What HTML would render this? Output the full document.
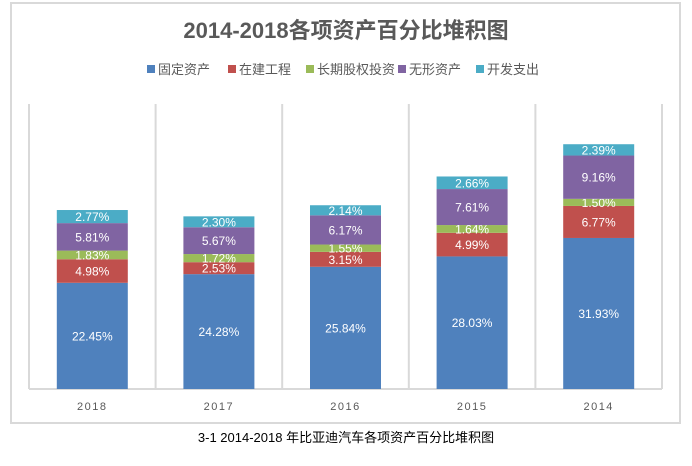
<!DOCTYPE html>
<html><head><meta charset="utf-8"><style>
body{margin:0;background:#fff;width:692px;height:461px;overflow:hidden;font-family:"Liberation Sans","Noto Sans CJK SC",sans-serif}
</style></head><body>
<svg id="c" width="692" height="461" xmlns="http://www.w3.org/2000/svg">
<rect x="11" y="3" width="669" height="420" fill="#fff" stroke="#d9d9d9" stroke-width="2"/>
<text x="346" y="38" text-anchor="middle" font-size="22" font-weight="bold" fill="#595959">2014-2018各项资产百分比堆积图</text>
<g id="legend"></g>
<g id="plot"></g>
<text x="346" y="442" text-anchor="middle" font-size="13" fill="#000">3-1 2014-2018 年比亚迪汽车各项资产百分比堆积图</text>
</svg>
<script>
const categories=["2018","2017","2016","2015","2014"];
const seriesNames=["固定资产","在建工程","长期股权投资","无形资产","开发支出"];
const fixedAssets=[22.45,24.28,25.84,28.03,31.93];
const construction=[4.98,2.53,3.15,4.99,6.77];
const equityInvest=[1.83,1.72,1.55,1.64,1.50];
const intangible=[5.81,5.67,6.17,7.61,9.16];
const devSpend=[2.77,2.30,2.14,2.66,2.39];
const colors=["#4f81bd","#c0504d","#9bbb59","#8064a2","#4bacc6"];
const series=[fixedAssets,construction,equityInvest,intangible,devSpend];
const NS="http://www.w3.org/2000/svg";
const svg=document.getElementById('c'),plot=document.getElementById('plot'),leg=document.getElementById('legend');
const x0=29,x1=662,yBase=389,pxPer=4.73,catW=(x1-x0)/categories.length,barW=71;
const y=v=>yBase-v*pxPer;
function mk(t,a,p){const e=document.createElementNS(NS,t);for(const k in a)e.setAttribute(k,a[k]);p.appendChild(e);return e;}
for(let i=0;i<=categories.length;i++){
 const l=mk('line',{x1:x0+i*catW,x2:x0+i*catW,y1:104,y2:yBase,stroke:'#d9d9d9','stroke-width':2},plot);
 
 
}
const ax=mk('line',{x1:x0,x2:x1,y1:yBase,y2:yBase,stroke:'#d9d9d9','stroke-width':2},plot);


categories.forEach((c,i)=>{
 const cx=x0+catW*(i+0.5);let acc=0;
 series.forEach((s,k)=>{
  const v=s[i];
  const r=mk('rect',{x:cx-barW/2,y:y(acc+v),width:barW,height:v*pxPer,fill:colors[k]},plot);
  
  
  const t=mk('text',{x:cx,y:y(acc+v/2)+4.5,'text-anchor':'middle','font-size':12,fill:'#fff'},plot);
  t.textContent=v.toFixed(2)+'%';
  
  
  acc+=v;
 });
 const tl=mk('text',{x:cx,y:410,'text-anchor':'middle','font-size':11,fill:'#595959','letter-spacing':'1.5'},plot);
 tl.textContent=c;
 
 
});
const lx=[147,228,306,398,476];
seriesNames.forEach((n,k)=>{
 const r=mk('rect',{x:lx[k],y:65,width:8,height:8,fill:colors[k]},leg);
 
 
 const t=mk('text',{x:lx[k]+11,y:74,'font-size':13,fill:'#595959'},leg);
 t.textContent=n;
 
 
});
</script>
</body></html>
